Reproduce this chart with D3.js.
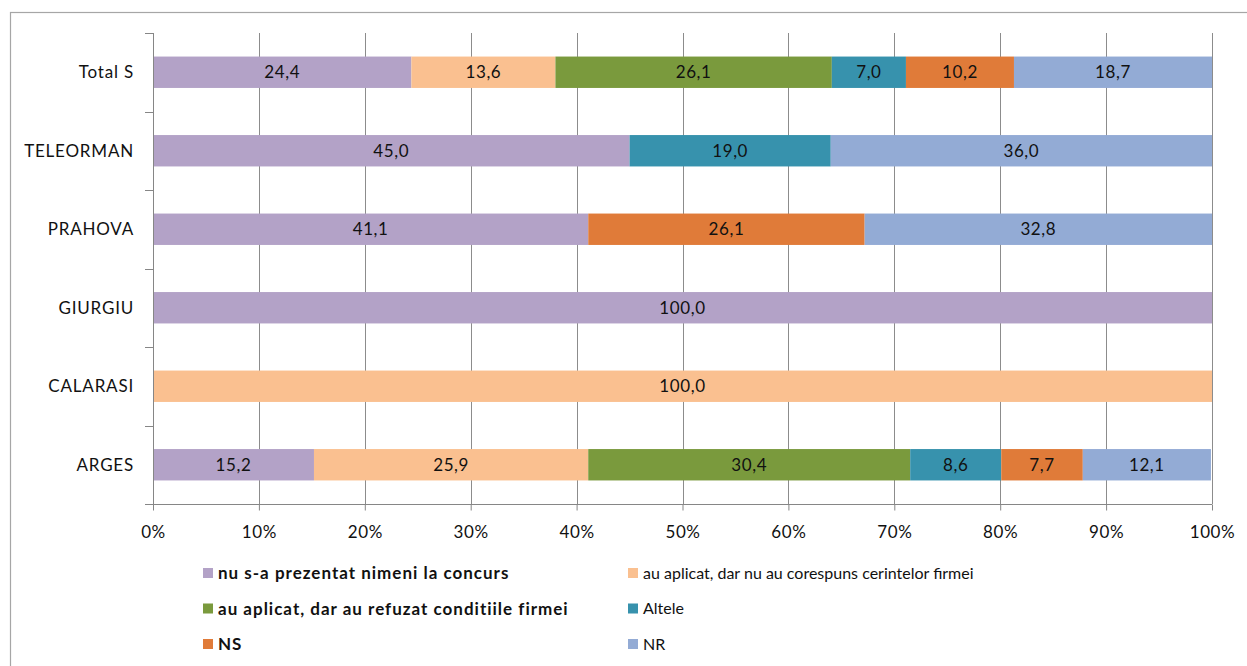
<!DOCTYPE html>
<html>
<head>
<meta charset="utf-8">
<script src="https://cdn.jsdelivr.net/npm/d3@7"></script>
<style>
  html, body { margin: 0; padding: 0; background: #fff; }
  svg { display: block; font-family: Lato, "Open Sans", sans-serif; }
</style>
</head>
<body>
<svg id="chart"></svg>
<script>
const width = 1247;
const height = 666;

// categories, top to bottom
const categories = ["Total S", "TELEORMAN", "PRAHOVA", "GIURGIU", "CALARASI", "ARGES"];

const seriesNames = [
    "nu s-a prezentat nimeni la concurs",
    "au aplicat, dar nu au corespuns cerintelor firmei",
    "au aplicat, dar au refuzat conditiile firmei",
    "Altele",
    "NS",
    "NR"
];
const seriesColors = ["#B3A2C7", "#FAC090", "#7A9A3D", "#3792AD", "#E07B39", "#93ABD5"];

// one array per series, same order as categories
const nuPrezentat  = [24.4, 45.0, 41.1, 100.0, 0, 15.2];
const nuCorespuns  = [13.6, 0, 0, 0, 100.0, 25.9];
const refuzat      = [26.1, 0, 0, 0, 0, 30.4];
const altele       = [7.0, 19.0, 0, 0, 0, 8.6];
const ns           = [10.2, 0, 26.1, 0, 0, 7.7];
const nr           = [18.7, 36.0, 32.8, 0, 0, 12.1];

const xTicks = [0, 10, 20, 30, 40, 50, 60, 70, 80, 90, 100];

const seriesValues = [nuPrezentat, nuCorespuns, refuzat, altele, ns, nr];

const rows = categories.map((c, i) => {
    const row = { cat: c };
    seriesNames.forEach((s, j) => row[s] = seriesValues[j][i]);
    return row;
});

const svg = d3.select("#chart")
    .attr("width", width)
    .attr("height", height);

// outer frame of the chart object
svg.append("rect")
    .attr("x", 10.5)
    .attr("y", 12.5)
    .attr("width", 1250)
    .attr("height", 670)
    .attr("fill", "none")
    .attr("stroke", "#a6a6a6")
    .attr("stroke-width", 1.2);

const plot = { left: 153, right: 1212, top: 33, bottom: 504 };

const x = d3.scaleLinear()
    .domain([0, 100])
    .range([plot.left, plot.right]);

const y = d3.scaleBand()
    .domain(categories)
    .range([plot.top, plot.bottom])
    .paddingInner(0.6)
    .paddingOuter(0.3);

// vertical gridlines
svg.append("g")
    .selectAll("line")
    .data(xTicks.slice(1))
    .join("line")
    .attr("x1", d => Math.round(x(d)) + 0.5)
    .attr("x2", d => Math.round(x(d)) + 0.5)
    .attr("y1", plot.top)
    .attr("y2", plot.bottom)
    .attr("stroke", "#8c8c8c")
    .attr("stroke-width", 1);

// stacked bars
const stack = d3.stack().keys(seriesNames);
const stacked = stack(rows);
const color = d3.scaleOrdinal().domain(seriesNames).range(seriesColors);

const layers = svg.append("g")
    .selectAll("g")
    .data(stacked)
    .join("g")
    .attr("fill", d => color(d.key));

layers.selectAll("rect")
    .data(d => d.filter(p => p[1] - p[0] > 0))
    .join("rect")
    .attr("x", d => x(d[0]))
    .attr("y", d => y(d.data.cat))
    .attr("width", d => x(d[1]) - x(d[0]))
    .attr("height", y.bandwidth());

// value labels
layers.selectAll("text")
    .data(d => d.filter(p => p[1] - p[0] > 0))
    .join("text")
    .attr("x", d => (x(d[0]) + x(d[1])) / 2)
    .attr("y", d => y(d.data.cat) + y.bandwidth() / 2)
    .attr("dy", "0.36em")
    .attr("text-anchor", "middle")
    .attr("font-size", 17)
    .attr("letter-spacing", 0.6)
    .attr("fill", "#111")
    .text(d => (d[1] - d[0]).toFixed(1).replace(".", ","));

// x axis
const xAxis = svg.append("g")
    .attr("transform", `translate(0, ${plot.bottom + 0.5})`)
    .call(d3.axisBottom(x).tickValues(xTicks).tickSize(6).tickFormat(d => d + "%"));
xAxis.select(".domain").attr("stroke", "#868686").attr("d", `M${plot.left - 8},0H${plot.right}`);
xAxis.selectAll(".tick line").attr("stroke", "#868686");
xAxis.selectAll(".tick text")
    .attr("y", 21)
    .attr("font-size", 17)
    .attr("letter-spacing", 0.6)
    .attr("font-family", "Lato, 'Open Sans', sans-serif")
    .attr("fill", "#111");

// y axis with tick marks between categories
const boundaries = d3.range(categories.length + 1).map(i => plot.top + i * y.step());
const yAxis = svg.append("g");
yAxis.append("line")
    .attr("x1", plot.left + 0.5)
    .attr("x2", plot.left + 0.5)
    .attr("y1", plot.top)
    .attr("y2", plot.bottom)
    .attr("stroke", "#868686");
yAxis.selectAll("line.tk")
    .data(boundaries)
    .join("line")
    .attr("class", "tk")
    .attr("x1", plot.left - 8)
    .attr("x2", plot.left)
    .attr("y1", d => Math.round(d) + 0.5)
    .attr("y2", d => Math.round(d) + 0.5)
    .attr("stroke", "#868686");
yAxis.selectAll("text")
    .data(categories)
    .join("text")
    .attr("x", plot.left - 19)
    .attr("y", d => y(d) + y.bandwidth() / 2)
    .attr("dy", "0.36em")
    .attr("text-anchor", "end")
    .attr("font-size", 17)
    .attr("letter-spacing", 0.8)
    .attr("fill", "#111")
    .text(d => d);

// legend, two columns (left column rendered heavier, as in the source)
const legend = svg.append("g");
const legendItems = legend.selectAll("g")
    .data(seriesNames)
    .join("g")
    .attr("transform", (d, i) => `translate(${i % 2 === 0 ? 203 : 628}, ${573 + Math.floor(i / 2) * 35.5})`);

legendItems.append("rect")
    .attr("x", 0)
    .attr("y", -5)
    .attr("width", 10)
    .attr("height", 10)
    .attr("fill", d => color(d));

legendItems.append("text")
    .attr("x", 15)
    .attr("y", 0)
    .attr("dy", "0.36em")
    .attr("font-size", (d, i) => i % 2 === 0 ? 17 : 16)
    .attr("font-weight", (d, i) => i % 2 === 0 ? "bold" : "normal")
    .attr("letter-spacing", (d, i) => i % 2 === 0 ? 1 : 0)
    .attr("fill", "#111")
    .text(d => d);
</script>
</body>
</html>
